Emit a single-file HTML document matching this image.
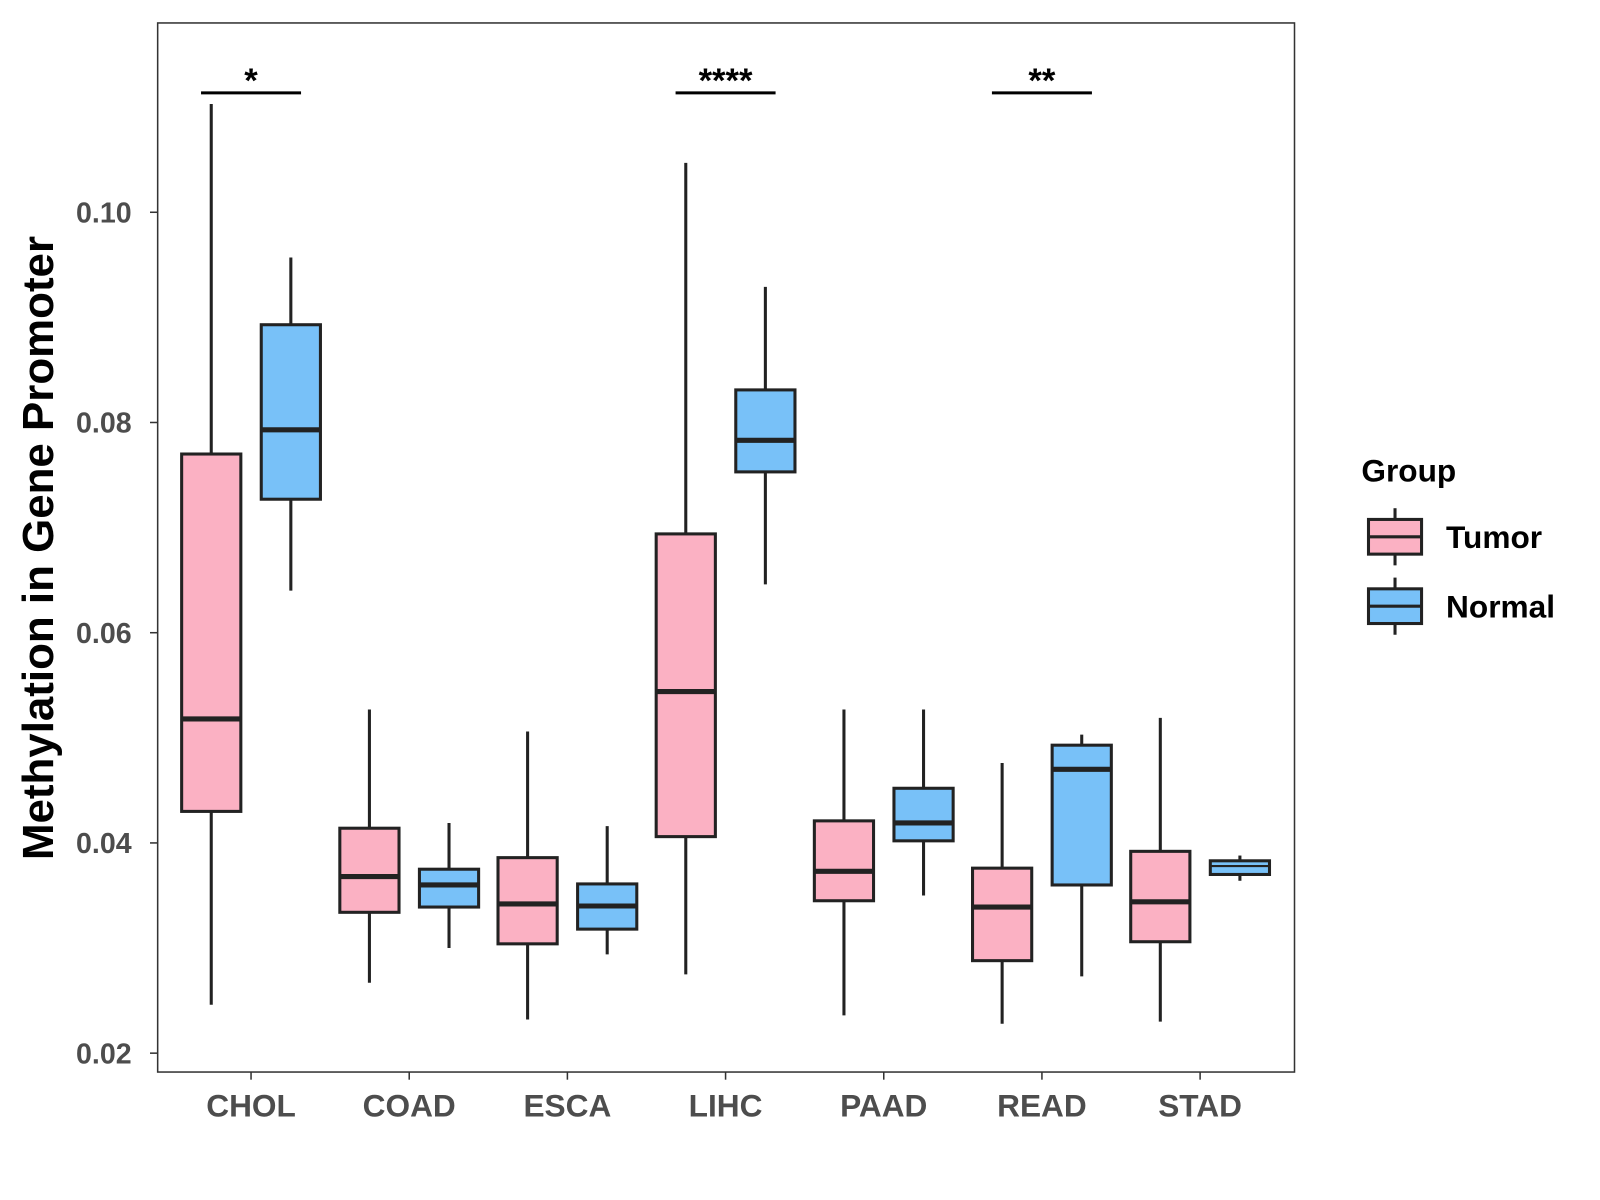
<!DOCTYPE html>
<html><head><meta charset="utf-8"><style>
html,body{margin:0;padding:0;background:#fff;}
svg{display:block;font-family:"Liberation Sans",Arial,sans-serif;}
</style></head><body>
<svg id="chart" width="1600" height="1200" viewBox="0 0 1600 1200">
<rect x="0" y="0" width="1600" height="1200" fill="#fff"/>
<g transform="scale(1.0205)">
<g id="plot"></g>
<rect x="154.5" y="22.5" width="1114" height="1028" fill="none" stroke="#333" stroke-width="1.5"/>
<text transform="translate(52,537) rotate(-90)" text-anchor="middle" font-size="43" font-weight="bold" fill="#000">Methylation in Gene Promoter</text>
<g>
<text x="1334" y="472" font-size="31" font-weight="bold" fill="#000">Group</text>
<g>
<line x1="1367" y1="498" x2="1367" y2="554" stroke="#222" stroke-width="3"/>
<rect x="1341" y="509" width="52" height="34" fill="#FBB1C3" stroke="#222" stroke-width="3"/>
<line x1="1341" y1="526" x2="1393" y2="526" stroke="#222" stroke-width="3"/>
<text x="1417" y="537" font-size="31" font-weight="bold" fill="#000">Tumor</text>
</g>
<g>
<line x1="1367" y1="566" x2="1367" y2="622" stroke="#222" stroke-width="3"/>
<rect x="1341" y="577" width="52" height="34" fill="#78C1F8" stroke="#222" stroke-width="3"/>
<line x1="1341" y1="594" x2="1393" y2="594" stroke="#222" stroke-width="3"/>
<text x="1417" y="605" font-size="31" font-weight="bold" fill="#000">Normal</text>
</g>
</g>
</g>
</svg>
<script>
const categories = ["CHOL","COAD","ESCA","LIHC","PAAD","READ","STAD"];
// [low, q1, median, q3, high]
const tumorStats = [
 [0.0246,0.0430,0.0518,0.0770,0.1103],
 [0.0267,0.0334,0.0368,0.0414,0.0527],
 [0.0232,0.0304,0.0342,0.0386,0.0506],
 [0.0275,0.0406,0.0544,0.0694,0.1047],
 [0.0236,0.0345,0.0373,0.0421,0.0527],
 [0.0228,0.0288,0.0339,0.0376,0.0476],
 [0.0230,0.0306,0.0344,0.0392,0.0519]
];
const normalStats = [
 [0.0640,0.0727,0.0793,0.0893,0.0957],
 [0.0300,0.0339,0.0360,0.0375,0.0419],
 [0.0294,0.0318,0.0340,0.0361,0.0416],
 [0.0646,0.0753,0.0783,0.0831,0.0929],
 [0.0350,0.0402,0.0419,0.0452,0.0527],
 [0.0273,0.0360,0.0470,0.0493,0.0503],
 [0.0364,0.0370,0.0378,0.0383,0.0388]
];
const yTicks = [0.02,0.04,0.06,0.08,0.10];
const yTickLabels = ["0.02","0.04","0.06","0.08","0.10"];
const sigCategories = ["CHOL","LIHC","READ"];
const sigLabels = ["*","****","**"];

const NS="http://www.w3.org/2000/svg";
const g=document.getElementById('plot');
function y(v){return 1032-(v-0.02)*10300;}
function x(i){return 246+i*155;}
function mk(tag,attrs,parent){const e=document.createElementNS(NS,tag);for(const k in attrs)e.setAttribute(k,attrs[k]);(parent||g).appendChild(e);return e;}

yTicks.forEach((t,i)=>{
  const tk=mk('line',{x1:147,x2:154,y1:y(t),y2:y(t),stroke:'#333','stroke-width':1.5});
  
  
  const tl=mk('text',{x:129,y:y(t)+10,'text-anchor':'end','font-size':28,'font-weight':'bold',fill:'#4d4d4d'});
  tl.textContent=yTickLabels[i];
  
  
});
categories.forEach((c,i)=>{
  const tk=mk('line',{x1:x(i),x2:x(i),y1:1050,y2:1058,stroke:'#333','stroke-width':1.5});
  
  
  const tl=mk('text',{x:x(i),y:1094,'text-anchor':'middle','font-size':31,'font-weight':'bold',fill:'#4d4d4d'});
  tl.textContent=c;
  
  
});
function box(s,cx,fill,name){
  const grp=mk('g',{});
  
  
  const w=29;
  mk('line',{x1:cx,x2:cx,y1:y(s[0]),y2:y(s[4]),stroke:'#222','stroke-width':3},grp);
  mk('rect',{x:cx-w,y:y(s[3]),width:2*w,height:y(s[1])-y(s[3]),fill:fill,stroke:'#222','stroke-width':3},grp);
  mk('line',{x1:cx-w,x2:cx+w,y1:y(s[2]),y2:y(s[2]),stroke:'#222','stroke-width':s[3]-s[1]<0.002?2:5},grp);
}
categories.forEach((c,i)=>{
  box(tumorStats[i],x(i)-39,'#FBB1C3','box-tumor-'+c.toLowerCase());
  box(normalStats[i],x(i)+39,'#78C1F8','box-normal-'+c.toLowerCase());
});
sigCategories.forEach((c,k)=>{
  const i=categories.indexOf(c);
  const ln=mk('line',{x1:x(i)-49,x2:x(i)+49,y1:91,y2:91,stroke:'#000','stroke-width':3});
  
  
  const t=mk('text',{x:x(i),y:90,'text-anchor':'middle','font-size':34,'font-weight':'bold',fill:'#000'});
  t.textContent=sigLabels[k];
  
  
});
</script>
</body></html>
